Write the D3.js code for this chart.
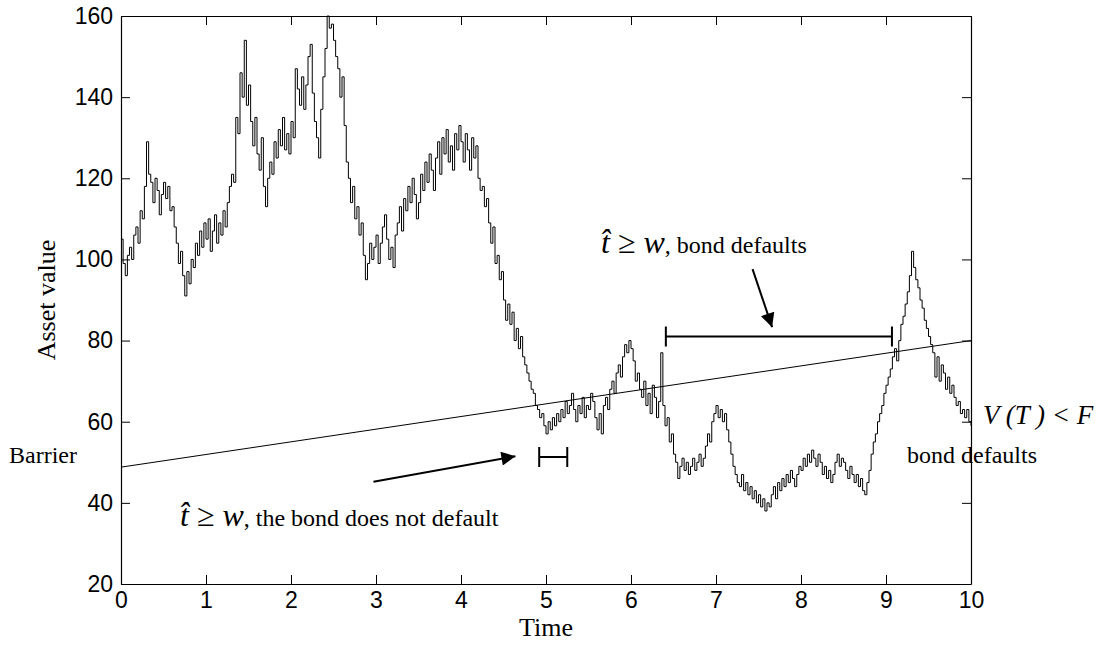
<html>
<head>
    <title>Asset value and barrier</title>
    <script type="text/javascript" src="https://cdn.jsdelivr.net/npm/d3@7/dist/d3.min.js"></script>
    <style>
        body { margin: 0; background: #ffffff; }
    </style>
</head>
<body>

<div id="chart-container"></div>

<script type="text/javascript">

    // Time grid for the simulated asset path (step 0.025)
    var DT = 0.025;

    // Asset value, 20 values per half time unit
    var assetValues = [
        105, 99, 96, 101, 103, 100, 106, 108, 104, 112, 110, 118, 129, 121, 119, 114, 120, 117, 111, 116,
        119, 115, 118, 112, 113, 108, 104, 99, 102, 96, 91, 97, 94, 100, 98, 104, 101, 107, 103, 109,
        105, 110, 102, 107, 111, 104, 109, 106, 112, 108, 114, 118, 121, 119, 135, 131, 146, 140, 154, 138,
        143, 134, 128, 135, 126, 122, 130, 118, 113, 120, 124, 121, 129, 125, 132, 128, 135, 127, 131, 126,
        134, 130, 147, 142, 138, 145, 137, 143, 150, 153, 141, 134, 130, 125, 137, 145, 152, 160, 157, 158,
        154, 150, 147, 140, 145, 133, 124, 120, 114, 118, 110, 113, 106, 109, 101, 95, 99, 104, 100, 103,
        106, 99, 104, 108, 111, 105, 100, 103, 98, 106, 109, 113, 107, 115, 112, 118, 114, 120, 116, 110,
        114, 121, 117, 124, 119, 126, 122, 117, 125, 129, 121, 130, 126, 132, 124, 128, 122, 131, 127, 133,
        129, 124, 131, 127, 122, 130, 125, 128, 120, 117, 118, 113, 115, 109, 104, 108, 99, 101, 95, 97,
        90, 85, 89, 84, 87, 80, 83, 78, 81, 76, 74, 72, 70, 68, 67, 64, 63, 61, 62, 59,
        57, 60, 58, 61, 59, 62, 60, 63, 61, 65, 62, 64, 67, 63, 60, 64, 62, 66, 61, 64,
        63, 67, 65, 61, 58, 62, 57, 64, 66, 63, 68, 70, 67, 72, 74, 71, 76, 79, 77, 80,
        78, 75, 70, 72, 68, 66, 70, 64, 67, 62, 69, 66, 61, 65, 77, 64, 59, 61, 55, 57,
        52, 50, 46, 49, 51, 48, 50, 47, 49, 51, 48, 50, 52, 49, 51, 54, 57, 55, 60, 62,
        64, 61, 63, 60, 62, 58, 55, 52, 49, 47, 45, 44, 47, 43, 45, 42, 44, 41, 43, 40,
        42, 39, 41, 38, 40, 39, 42, 44, 41, 45, 43, 46, 44, 47, 45, 48, 46, 44, 47, 49,
        48, 51, 49, 52, 50, 53, 51, 49, 52, 50, 47, 49, 46, 48, 45, 47, 50, 52, 49, 51,
        50, 48, 46, 49, 47, 45, 47, 44, 46, 43, 42, 45, 48, 52, 55, 57, 60, 62, 64, 67,
        69, 71, 73, 76, 78, 75, 80, 84, 86, 89, 92, 96, 102, 98, 95, 93, 90, 88, 85, 83,
        81, 79, 77, 71, 76, 70, 74, 72, 68, 71, 67, 69, 66, 64, 65, 62, 63, 61, 63, 60,
        59
    ];

    // Barrier: straight line between its two end points
    var barrierTimes = [0, 10];
    var barrierValues = [48.8, 80];

    // Tick values
    var xTicks = [0, 1, 2, 3, 4, 5, 6, 7, 8, 9, 10];
    var yTicks = [20, 40, 60, 80, 100, 120, 140, 160];

    // Annotation intervals [start, end, level] and arrows [t0, v0, t1, v1]
    var shortInterval = [4.92, 5.25, 51.3];
    var longInterval = [6.41, 9.07, 81];
    var arrowLower = [2.97, 45.2, 4.64, 51.5];
    var arrowUpper = [7.43, 97.6, 7.66, 83.3];


    // Plot box in pixels
    var WIDTH = 1105, HEIGHT = 649;
    var LEFT = 121, RIGHT = 971, TOP = 16, BOTTOM = 584;
    var TICK = 9;

    var x = d3.scaleLinear().domain([0, 10]).range([LEFT, RIGHT]);
    var y = d3.scaleLinear().domain([20, 160]).range([BOTTOM, TOP]);

    var svg = d3.select("#chart-container").append("svg")
        .attr("width", WIDTH)
        .attr("height", HEIGHT);

    // Asset path, drawn as stairs like the original plot
    var pathData = assetValues.map(function (v, i) { return {t: i * DT, v: v}; });
    var assetLine = d3.line()
        .x(function (d) { return x(d.t); })
        .y(function (d) { return y(d.v); })
        .curve(d3.curveStepAfter);

    svg.append("path")
        .datum(pathData)
        .attr("d", assetLine)
        .attr("fill", "none")
        .attr("stroke", "#000")
        .attr("stroke-width", 1);

    // Barrier line
    var barrierData = barrierTimes.map(function (t, i) { return {t: t, v: barrierValues[i]}; });
    svg.append("path")
        .datum(barrierData)
        .attr("d", d3.line().x(function (d) { return x(d.t); }).y(function (d) { return y(d.v); }))
        .attr("fill", "none")
        .attr("stroke", "#000")
        .attr("stroke-width", 1);

    // Axes: ticks pointing inward on all four sides, labels on bottom and left
    var axisBottom = d3.axisBottom(x).tickValues(xTicks).tickSizeInner(-TICK).tickSizeOuter(0).tickPadding(8);
    var axisTop = d3.axisTop(x).tickValues(xTicks).tickSizeInner(-TICK).tickSizeOuter(0).tickFormat("");
    var axisLeft = d3.axisLeft(y).tickValues(yTicks).tickSizeInner(-TICK).tickSizeOuter(0).tickPadding(8);
    var axisRight = d3.axisRight(y).tickValues(yTicks).tickSizeInner(-TICK).tickSizeOuter(0).tickFormat("");

    svg.append("g").attr("class", "axis").attr("transform", "translate(0," + BOTTOM + ")").call(axisBottom);
    svg.append("g").attr("class", "axis").attr("transform", "translate(0," + TOP + ")").call(axisTop);
    svg.append("g").attr("class", "axis").attr("transform", "translate(" + LEFT + ",0)").call(axisLeft);
    svg.append("g").attr("class", "axis").attr("transform", "translate(" + RIGHT + ",0)").call(axisRight);

    svg.selectAll(".axis path").attr("stroke", "#000").attr("stroke-width", 1.2);
    svg.selectAll(".axis line").attr("stroke", "#000");
    svg.selectAll(".axis text")
        .attr("fill", "#000")
        .attr("font-family", "'Liberation Sans', Arial, sans-serif")
        .attr("font-size", 23);

    // Axis titles
    var serif = "'Liberation Serif', 'Times New Roman', serif";
    svg.append("text")
        .text("Time")
        .attr("x", (LEFT + RIGHT) / 2)
        .attr("y", 636)
        .attr("text-anchor", "middle")
        .attr("font-family", serif)
        .attr("font-size", 26);

    svg.append("text")
        .text("Asset value")
        .attr("transform", "translate(55," + (TOP + BOTTOM) / 2 + ") rotate(-90)")
        .attr("text-anchor", "middle")
        .attr("font-family", serif)
        .attr("font-size", 26);

    // Interval brackets |----|
    function drawInterval(iv) {
        var g = svg.append("g").attr("stroke", "#000").attr("stroke-width", 2);
        g.append("line")
            .attr("x1", x(iv[0])).attr("x2", x(iv[1]))
            .attr("y1", y(iv[2])).attr("y2", y(iv[2]));
        [iv[0], iv[1]].forEach(function (t) {
            g.append("line")
                .attr("x1", x(t)).attr("x2", x(t))
                .attr("y1", y(iv[2]) - 10).attr("y2", y(iv[2]) + 10);
        });
    }
    drawInterval(shortInterval);
    drawInterval(longInterval);

    // Arrows with filled heads
    svg.append("defs").append("marker")
        .attr("id", "head")
        .attr("viewBox", "0 0 10 10")
        .attr("refX", 10).attr("refY", 5)
        .attr("markerWidth", 8.5).attr("markerHeight", 7)
        .attr("markerUnits", "strokeWidth")
        .attr("orient", "auto")
        .append("path")
        .attr("d", "M0,0 L10,5 L0,10 Z")
        .attr("fill", "#000");

    [arrowLower, arrowUpper].forEach(function (a) {
        svg.append("line")
            .attr("x1", x(a[0])).attr("y1", y(a[1]))
            .attr("x2", x(a[2])).attr("y2", y(a[3]))
            .attr("stroke", "#000")
            .attr("stroke-width", 2)
            .attr("marker-end", "url(#head)");
    });

    // Text annotations: italic maths part followed by plain words
    function mathLabel(px, py, math, mathSize, rest) {
        var t = svg.append("text")
            .attr("x", px).attr("y", py)
            .attr("font-family", serif);
        t.append("tspan").text(math)
            .attr("font-family", serif)
            .attr("font-style", "italic")
            .attr("font-size", mathSize);
        if (rest) {
            t.append("tspan").text(rest)
                .attr("font-family", serif)
                .attr("font-style", "normal")
                .attr("font-size", 24);
        }
    }

    mathLabel(601, 253, "t\u0302 \u2265 w", 32, ", bond defaults");
    mathLabel(180, 526, "t\u0302 \u2265 w", 32, ", the bond does not default");
    mathLabel(983, 424, "V (T ) < F", 27, null);

    svg.append("text")
        .text("bond defaults")
        .attr("x", 907).attr("y", 463)
        .attr("font-family", serif)
        .attr("font-size", 24);

    svg.append("text")
        .text("Barrier")
        .attr("x", 9).attr("y", 463)
        .attr("font-family", serif)
        .attr("font-size", 24);

</script>

</body>
</html>
